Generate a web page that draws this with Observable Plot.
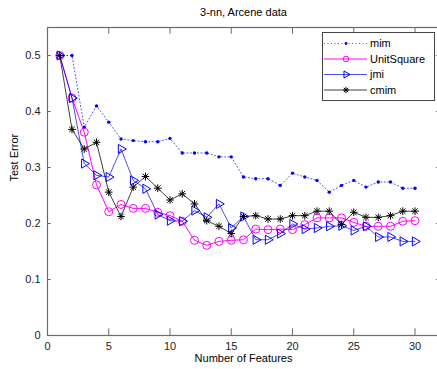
<!DOCTYPE html>
<html>
<head>
<meta charset="utf-8">
<script src="https://cdn.jsdelivr.net/npm/d3@7"></script>
<script src="https://cdn.jsdelivr.net/npm/@observablehq/plot@0.6"></script>
<style>
  html, body { margin: 0; padding: 0; background: #fff; }
  svg { display: block; }
</style>
</head>
<body>
<div id="chart"></div>
<script>
const features = [1,2,3,4,5,6,7,8,9,10,11,12,13,14,15,16,17,18,19,20,21,22,23,24,25,26,27,28,29,30];
const mim = [0.5,0.5,0.372,0.41,0.381,0.351,0.348,0.346,0.346,0.352,0.326,0.326,0.326,0.319,0.319,0.283,0.280,0.280,0.268,0.290,0.283,0.277,0.256,0.268,0.277,0.265,0.274,0.274,0.263,0.263];
const unitSquare = [0.5,0.424,0.363,0.269,0.221,0.234,0.227,0.227,0.220,0.214,0.204,0.170,0.161,0.168,0.170,0.171,0.190,0.189,0.190,0.189,0.198,0.210,0.210,0.210,0.202,0.195,0.195,0.195,0.204,0.205];
const jmi = [0.5,0.424,0.307,0.286,0.283,0.333,0.277,0.262,0.216,0.205,0.204,0.223,0.211,0.235,0.192,0.2125,0.171,0.171,0.182,0.199,0.190,0.192,0.195,0.196,0.1875,0.195,0.176,0.176,0.168,0.168];
const cmim = [0.5,0.368,0.333,0.345,0.256,0.2125,0.265,0.284,0.263,0.242,0.253,0.235,0.205,0.195,0.182,0.2125,0.214,0.208,0.208,0.214,0.214,0.222,0.222,0.198,0.220,0.211,0.211,0.214,0.222,0.222];

const xTicks = [0,5,10,15,20,25,30];
const yTicks = [0,0.1,0.2,0.3,0.4,0.5];
const seriesNames = ["mim","UnitSquare","jmi","cmim"];
const titleText = "3-nn, Arcene data";
const xLabel = "Number of Features";
const yLabel = "Test Error";

const rows = (vals) => features.map((f, i) => ({x: f, y: vals[i]}));
const mimRows = rows(mim), usRows = rows(unitSquare), jmiRows = rows(jmi), cmimRows = rows(cmim);

const BLUE = "#0000ff", MAG = "#ff00ff", BLACK = "#000000";
const R_DOT = 1.7, R_CIRC = 4, R_TRI = 3.4, R_AST = 2.6;
const AXIS = "#6a6a6a";

const plot = Plot.plot({
  width: 437,
  height: 369,
  marginLeft: 47,
  marginRight: -2,
  marginTop: 27,
  marginBottom: 34,
  style: {fontFamily: "'Liberation Sans', Arial, sans-serif", fontSize: "11px", background: "#fff", color: "#000"},
  x: {domain: [0, 32]},
  y: {domain: [0, 0.55]},
  marks: [
    Plot.frame({stroke: AXIS, strokeWidth: 1.2}),
    Plot.axisX(xTicks, {tickSize: 0, tickPadding: 7, label: null, fontSize: 11, fill: "#222"}),
    Plot.axisY(yTicks, {tickSize: 0, tickPadding: 7, label: null, fontSize: 11, fill: "#222",
      tickFormat: d => d === 0 ? "0" : d3.format(".1f")(d)}),
    // inward ticks (MATLAB style)
    Plot.ruleX(xTicks.filter(d => d > 0), {y1: 0, y2: 0.012, stroke: AXIS}),
    Plot.ruleX(xTicks.filter(d => d > 0), {y1: 0.55, y2: 0.538, stroke: AXIS}),
    Plot.ruleY(yTicks.filter(d => d > 0), {x1: 0, x2: 0.3, stroke: AXIS}),
    Plot.ruleY(yTicks.filter(d => d > 0), {x1: 31.75, x2: 32, stroke: AXIS}),
    // mim
    Plot.line(mimRows, {x: "x", y: "y", stroke: BLUE, strokeWidth: 1, strokeDasharray: "1,2.5", strokeOpacity: 0.7}),
    Plot.dot(mimRows, {x: "x", y: "y", r: R_DOT, fill: BLUE}),
    // UnitSquare
    Plot.line(usRows, {x: "x", y: "y", stroke: MAG, strokeWidth: 1}),
    Plot.dot(usRows, {x: "x", y: "y", r: R_CIRC, stroke: MAG, fill: "none", strokeWidth: 1}),
    // jmi
    Plot.line(jmiRows, {x: "x", y: "y", stroke: BLUE, strokeWidth: 1, strokeOpacity: 0.7}),
    Plot.dot(jmiRows, {x: "x", y: "y", r: R_TRI, symbol: "triangle", rotate: 90, stroke: BLUE, fill: "none", strokeWidth: 1}),
    // cmim
    Plot.line(cmimRows, {x: "x", y: "y", stroke: BLACK, strokeWidth: 1, strokeOpacity: 0.75}),
    Plot.dot(cmimRows, {x: "x", y: "y", r: R_AST, symbol: "plus", stroke: BLACK, strokeWidth: 1}),
    Plot.dot(cmimRows, {x: "x", y: "y", r: R_AST, symbol: "times", stroke: BLACK, strokeWidth: 1}),
    // texts
    Plot.text([titleText], {frameAnchor: "top", lineAnchor: "middle", dy: -15, fontSize: 11, fill: "#000"}),
    Plot.text([xLabel], {frameAnchor: "bottom", lineAnchor: "middle", dy: 23, fontSize: 11, fill: "#000"}),
    Plot.text([yLabel], {frameAnchor: "left", lineAnchor: "middle", dx: -33, rotate: -90, fontSize: 11, fill: "#000"})
  ]
});

document.getElementById("chart").appendChild(plot);

// Legend
const svg = d3.select(plot);
const lg = svg.append("g")
  .attr("font-family", "'Liberation Sans', Arial, sans-serif")
  .attr("font-size", 11)
  .attr("text-anchor", "start");
lg.append("rect").attr("x", 322.5).attr("y", 32.5).attr("width", 112).attr("height", 68)
  .attr("fill", "#fff").attr("stroke", "#444");
const legendStyles = [
  {color: BLUE, dash: "1,2.5", sym: "dot", op: 0.7},
  {color: MAG, dash: null, sym: "circle", op: 1},
  {color: BLUE, dash: null, sym: "triangle", op: 0.7},
  {color: BLACK, dash: null, sym: "asterisk", op: 0.75}
];
const legendRows = [43.5, 59, 74.5, 90];
seriesNames.forEach((name, i) => {
  const y = legendRows[i];
  const s = legendStyles[i];
  lg.append("line").attr("x1", 324).attr("x2", 367).attr("y1", y).attr("y2", y)
    .attr("stroke", s.color).attr("stroke-width", 1).attr("stroke-opacity", s.op).attr("stroke-dasharray", s.dash);
  const g = lg.append("g").attr("transform", `translate(346,${y})`);
  if (s.sym === "dot") {
    g.append("circle").attr("r", 1.4).attr("fill", s.color);
  } else if (s.sym === "circle") {
    g.append("circle").attr("r", 2.8).attr("fill", "none").attr("stroke", s.color);
  } else if (s.sym === "triangle") {
    g.append("path").attr("d", d3.symbol(d3.symbolTriangle, 2.6 * 2.6 * Math.PI)())
      .attr("transform", "rotate(90)").attr("fill", "none").attr("stroke", s.color);
  } else {
    g.append("path").attr("d", d3.symbol(d3.symbolPlus, 2.1 * 2.1 * Math.PI)()).attr("fill", "none").attr("stroke", s.color);
    g.append("path").attr("d", d3.symbol(d3.symbolTimes, 2.1 * 2.1 * Math.PI)()).attr("fill", "none").attr("stroke", s.color);
  }
  lg.append("text").attr("x", 370).attr("y", y).attr("dy", "0.35em").attr("fill", "#000").text(name);
});
</script>
</body>
</html>
